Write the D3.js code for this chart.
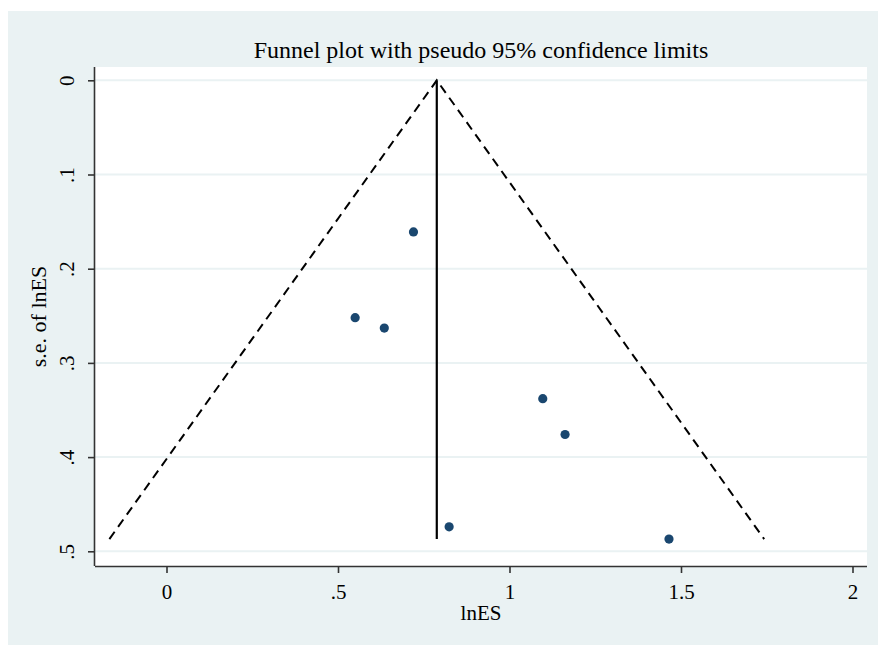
<!DOCTYPE html>
<html>
<head>
<meta charset="utf-8">
<script src="https://cdn.jsdelivr.net/npm/d3@7"></script>
<style>
  body { margin: 0; background: #fff; }
  text { font-family: "Liberation Serif", "Times New Roman", serif; fill: #000; }
</style>
</head>
<body>
<script>
// study estimates
var LN_ES = [0.720, 0.550, 0.635, 1.097, 1.162, 0.824, 1.465];
var SE_LN_ES = [0.161, 0.252, 0.263, 0.338, 0.376, 0.474, 0.487];
var POOLED = 0.788;
var X_TICKS = [0, 0.5, 1, 1.5, 2];
var Y_TICKS = [0, 0.1, 0.2, 0.3, 0.4, 0.5];
var TICK_LABELS = ["0", ".5", "1", "1.5", "2"];
var Y_TICK_LABELS = ["0", ".1", ".2", ".3", ".4", ".5"];

(function(d3) {
  var W = 878, H = 645;
  var plot = {left: 95, right: 867, top: 67, bottom: 566};
  var NAVY = "#1a476f";
  var BG = "#eaf2f3";

  var svg = d3.select("body").append("svg")
    .attr("width", W)
    .attr("height", H);

  // outer graph region + white plot region
  svg.append("rect").attr("x", 8).attr("y", 11).attr("width", W - 8).attr("height", H - 11).attr("fill", BG);
  svg.append("rect")
    .attr("x", plot.left).attr("y", plot.top)
    .attr("width", plot.right - plot.left).attr("height", plot.bottom - plot.top)
    .attr("fill", "#fff");

  var x = d3.scaleLinear().domain([0, 2]).range([166.5, 852.5]);
  var y = d3.scaleLinear().domain([0, 0.5]).range([80.3, 551.3]);

  // gridlines
  svg.append("g").selectAll("line")
    .data(Y_TICKS)
    .enter().append("line")
    .attr("x1", plot.left).attr("x2", plot.right)
    .attr("y1", function(d) { return y(d); })
    .attr("y2", function(d) { return y(d); })
    .attr("stroke", BG)
    .attr("stroke-width", 2);

  // axes
  var xAxis = d3.axisBottom(x)
    .tickValues(X_TICKS)
    .tickSize(7)
    .tickPadding(6)
    .tickFormat(function(d, i) { return TICK_LABELS[i]; });
  var gx = svg.append("g")
    .attr("transform", "translate(0," + plot.bottom + ")")
    .call(xAxis);
  gx.select(".domain").attr("d", "M" + plot.left + ",0.5H" + plot.right);

  var yAxis = d3.axisLeft(y)
    .tickValues(Y_TICKS)
    .tickSize(7)
    .tickPadding(9)
    .tickFormat(function(d, i) { return Y_TICK_LABELS[i]; });
  var gy = svg.append("g")
    .attr("transform", "translate(" + plot.left + ",0)")
    .call(yAxis);
  gy.select(".domain").attr("d", "M-0.5," + plot.top + "V" + plot.bottom);

  [gx, gy].forEach(function(g) {
    g.selectAll(".domain, .tick line").attr("stroke", "#333").attr("stroke-width", 1.6);
    g.selectAll(".tick text")
      .attr("font-family", "Liberation Serif")
      .attr("font-size", 21)
      .attr("fill", "#000");
  });
  gx.selectAll(".tick text").attr("dy", "0.95em");
  gy.selectAll(".tick text")
    .attr("text-anchor", "middle")
    .attr("transform", "translate(-28,0) rotate(-90)")
    .attr("x", 0)
    .attr("y", 0)
    .attr("dy", "0.35em");

  // pseudo 95% confidence limits
  var seMax = d3.max(SE_LN_ES);
  var funnel = [
    [POOLED - 1.96 * seMax, seMax],
    [POOLED, 0],
    [POOLED + 1.96 * seMax, seMax]
  ];
  svg.append("path")
    .datum(funnel)
    .attr("d", d3.line().x(function(d) { return x(d[0]); }).y(function(d) { return y(d[1]); }))
    .attr("fill", "none")
    .attr("stroke", "#000")
    .attr("stroke-width", 2)
    .attr("stroke-dasharray", "9,6");

  svg.append("line")
    .attr("x1", x(POOLED)).attr("x2", x(POOLED))
    .attr("y1", y(0)).attr("y2", y(seMax))
    .attr("stroke", "#000")
    .attr("stroke-width", 2.2);

  // studies
  svg.append("g").selectAll("circle")
    .data(LN_ES)
    .enter().append("circle")
    .attr("cx", function(d) { return x(d); })
    .attr("cy", function(d, i) { return y(SE_LN_ES[i]); })
    .attr("r", 4.6)
    .attr("fill", NAVY);

  // titles
  svg.append("text")
    .attr("x", (plot.left + plot.right) / 2)
    .attr("y", 58)
    .attr("text-anchor", "middle")
    .attr("font-size", 24)
    .text("Funnel plot with pseudo 95% confidence limits");

  svg.append("text")
    .attr("x", (plot.left + plot.right) / 2)
    .attr("y", 620)
    .attr("text-anchor", "middle")
    .attr("font-size", 21)
    .text("lnES");

  svg.append("text")
    .attr("transform", "translate(46," + (plot.top + plot.bottom) / 2 + ") rotate(-90)")
    .attr("text-anchor", "middle")
    .attr("font-size", 22)
    .text("s.e. of lnES");
})(d3);
</script>
</body>
</html>
